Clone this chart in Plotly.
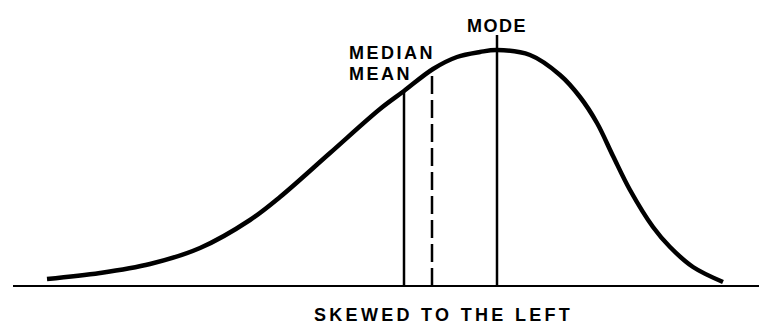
import numpy as np
import plotly.graph_objects as go

# Frequency curve (horizontal position, height above baseline)
curve_x = [47, 100, 150, 200, 250, 280, 330, 380, 404, 433, 457, 480, 497, 530, 560, 580, 597, 613, 630, 653, 670, 693, 723]
curve_h = [7, 13, 22, 38, 66, 89, 133, 177, 195, 217, 229, 234, 236, 231, 211, 189, 163, 130, 96, 59, 39, 19, 4]

# Statistic positions
stat_names = ["MEAN", "MEDIAN", "MODE"]
stat_x = [404, 432, 497]
mode_top = 251

baseline_x = [13, 763]
title_text = "SKEWED TO THE LEFT"

fig = go.Figure()

# baseline
fig.add_trace(go.Scatter(x=baseline_x, y=[0, 0], mode="lines",
                         line=dict(color="black", width=2), hoverinfo="skip"))
# curve
fig.add_trace(go.Scatter(x=curve_x, y=curve_h, mode="lines",
                         line=dict(color="black", width=4.5, shape="spline", smoothing=1.0),
                         hoverinfo="skip"))

mean_h = float(np.interp(stat_x[0], curve_x, curve_h))
median_h = float(np.interp(stat_x[1], curve_x, curve_h))

fig.add_trace(go.Scatter(x=[stat_x[0], stat_x[0]], y=[0, mean_h], mode="lines",
                         line=dict(color="black", width=2.5), hoverinfo="skip"))
fig.add_trace(go.Scatter(x=[stat_x[1], stat_x[1]], y=[0, median_h], mode="lines",
                         line=dict(color="black", width=2.5, dash="18px,6px"), hoverinfo="skip"))
fig.add_trace(go.Scatter(x=[stat_x[2], stat_x[2]], y=[0, mode_top], mode="lines",
                         line=dict(color="black", width=2.5), hoverinfo="skip"))

lab_font = dict(family="Liberation Sans, Arial, sans-serif", size=18, color="black", weight="bold")

def spaced(t, s):
    return f'<span style="letter-spacing:{s}px">{t}</span>'

fig.add_annotation(x=stat_x[2], y=260, text=spaced("MODE", 1.5), showarrow=False,
                   xanchor="center", yanchor="middle", font=lab_font)
fig.add_annotation(x=347, y=233, text=spaced("MEDIAN", 2.5), showarrow=False,
                   xanchor="left", yanchor="middle", font=lab_font)
fig.add_annotation(x=347, y=212, text=spaced("MEAN", 2.5), showarrow=False,
                   xanchor="left", yanchor="middle", font=lab_font)
fig.add_annotation(x=443, y=-29, text=spaced(title_text, 3.3), showarrow=False,
                   xanchor="center", yanchor="middle", font=lab_font)

# page body has an 8px margin; ranges are offset so marks land where they should
fig.update_layout(
    width=767, height=334,
    margin=dict(l=0, r=0, t=0, b=0),
    paper_bgcolor="white", plot_bgcolor="white",
    showlegend=False,
    xaxis=dict(range=[8, 775], visible=False, fixedrange=True),
    yaxis=dict(range=[-56, 278], visible=False, fixedrange=True),
)

fig.write_html("out.html")
